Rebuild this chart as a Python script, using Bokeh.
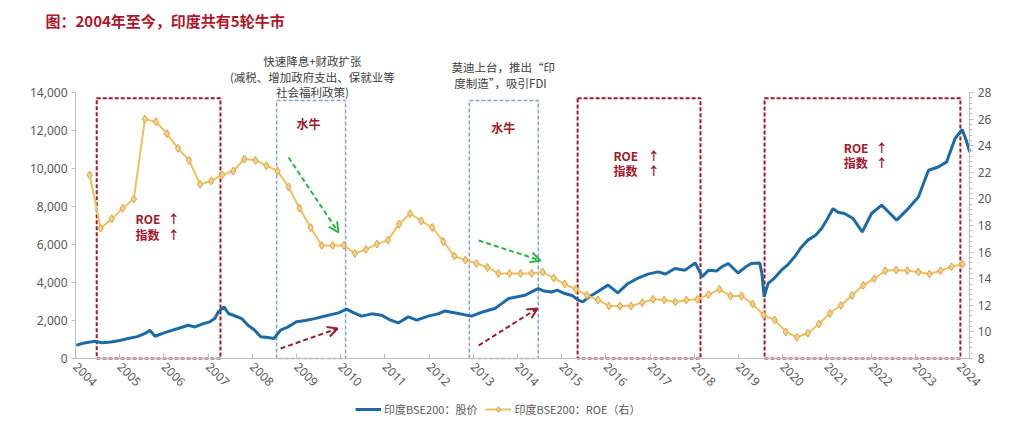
import math
from bokeh.plotting import figure
from bokeh.models import (Range1d, LinearAxis, FixedTicker, NumeralTickFormatter,
                          BoxAnnotation, Label, Arrow, OpenHead, Legend, LegendItem)
from bokeh.embed import file_html
from bokeh.resources import INLINE

# ---------------- data ----------------
years = list(range(2004, 2025))
year_labels = [str(y) for y in years]

# BSE200 price (left axis), decimal year / index level
price_t = [2004.02, 2004.2, 2004.44, 2004.6, 2004.8, 2005.0, 2005.19, 2005.4, 2005.6, 2005.68,
           2005.8, 2006.0, 2006.32, 2006.55, 2006.7, 2006.85, 2007.04, 2007.15, 2007.23, 2007.36,
           2007.46, 2007.6, 2007.76, 2007.9, 2008.05, 2008.19, 2008.35, 2008.49, 2008.64, 2008.8,
           2009.0, 2009.2, 2009.41, 2009.72, 2009.95, 2010.13, 2010.3, 2010.47, 2010.7, 2010.92,
           2011.1, 2011.3, 2011.53, 2011.72, 2011.98, 2012.2, 2012.36, 2012.66, 2012.96, 2013.15,
           2013.34, 2013.49, 2013.65, 2013.8, 2014.0, 2014.17, 2014.35, 2014.47, 2014.6, 2014.77,
           2014.9, 2015.07, 2015.25, 2015.37, 2015.48, 2015.62, 2015.75, 2015.9, 2016.05, 2016.27,
           2016.5, 2016.7, 2016.95, 2017.18, 2017.35, 2017.56, 2017.79, 2018.02, 2018.18, 2018.32,
           2018.5, 2018.62, 2018.77, 2018.99, 2019.15, 2019.29, 2019.48, 2019.53, 2019.58, 2019.67,
           2019.8, 2019.97, 2020.1, 2020.27, 2020.4, 2020.57, 2020.75, 2020.88, 2021.0, 2021.14,
           2021.25, 2021.4, 2021.59, 2021.8, 2022.01, 2022.24, 2022.4, 2022.58, 2022.84, 2023.07,
           2023.2, 2023.3, 2023.52, 2023.71, 2023.9, 2024.06, 2024.15, 2024.23]
price_v = [700, 820, 910, 830, 870, 950, 1050, 1150, 1350, 1490,
           1170, 1350, 1580, 1750, 1660, 1800, 1930, 2100, 2450, 2720,
           2370, 2250, 2100, 1750, 1500, 1140, 1100, 1050, 1490, 1650,
           1930, 2000, 2100, 2280, 2400, 2600, 2400, 2230, 2350, 2280,
           2050, 1870, 2190, 2020, 2230, 2350, 2500, 2370, 2230, 2400,
           2540, 2630, 2900, 3160, 3250, 3330, 3550, 3680, 3550, 3500,
           3600, 3420, 3300, 3070, 2980, 3250, 3420, 3650, 3860, 3450,
           3950, 4200, 4440, 4560, 4450, 4740, 4650, 5030, 4300, 4650,
           4600, 4820, 5000, 4500, 4800, 5000, 5030, 4470, 3240, 3950,
           4200, 4650, 4900, 5350, 5800, 6230, 6500, 6840, 7300, 7890,
           7700, 7630, 7370, 6660, 7630, 8070, 7700, 7280, 7890, 8500,
           9300, 9910, 10080, 10350, 11580, 12050, 11500, 10870]

# BSE200 ROE (right axis), quarterly
roe_v = [21.8, 17.8, 18.5, 19.3, 20.0, 26.0, 25.8, 24.9, 23.8, 22.9,
         21.1, 21.35, 21.8, 22.1, 23.0, 22.9, 22.5, 22.1, 20.9, 19.3,
         17.85, 16.5, 16.5, 16.5, 15.9, 16.2, 16.6, 16.9, 18.1, 18.9,
         18.35, 17.85, 16.8, 15.7, 15.4, 15.15, 14.85, 14.4, 14.4, 14.4,
         14.4, 14.5, 14.05, 13.6, 13.2, 12.75, 12.4, 11.95, 11.95, 11.95,
         12.2, 12.45, 12.4, 12.25, 12.4, 12.45, 12.8, 13.2, 12.7, 12.7,
         12.1, 11.25, 10.9, 10.0, 9.6, 9.9, 10.6, 11.4, 12.0, 12.75,
         13.5, 14.0, 14.6, 14.65, 14.6, 14.5, 14.35, 14.6, 14.9, 15.1]
roe_t = [2004.32 + 0.25 * i for i in range(len(roe_v))]

left_ticks = [0, 2000, 4000, 6000, 8000, 10000, 12000, 14000]
right_ticks = [8, 10, 12, 14, 16, 18, 20, 22, 24, 26, 28]

series_names = ["印度BSE200：股价", "印度BSE200：ROE（右）"]

# ---------------- styles ----------------
CJK = "Noto Sans CJK SC"
NUM = "Noto Sans"
BLUE = "#1C6BA6"
GOLD = "#F0C05A"
RED = "#9E1A2C"
LBLUE = "#7FA8D0"
GREEN = "#2DB34A"
AXIS_GRAY = "#BFBFBF"
TXT = "#595959"

X0, X1 = 2004.0, 2024.23

# the frame fills the whole canvas; all three axes are pinned at fixed locations inside it
p = figure(width=1007, height=419, output_backend="svg", toolbar_location=None,
           x_range=Range1d(2002.303, 2025.086), y_range=Range1d(-3210.5, 18842),
           min_border_left=0, min_border_right=0, min_border_top=0, min_border_bottom=0)
p.outline_line_color = None
p.xgrid.visible = False
p.ygrid.visible = False
p.extra_y_ranges = {"roe": Range1d(3.414, 34.917)}

# axes
xa = p.xaxis[0]
xa.fixed_location = 0
xa.bounds = (X0, X1)
xa.ticker = FixedTicker(ticks=years)
xa.major_label_overrides = {y: s for y, s in zip(years, year_labels)}
xa.major_label_orientation = -math.pi / 4
xa.major_tick_in = 5
xa.major_tick_out = 0
xa.minor_tick_line_color = None
xa.axis_line_color = AXIS_GRAY
xa.major_tick_line_color = AXIS_GRAY
xa.major_label_text_font = NUM
xa.major_label_text_font_size = "12px"
xa.major_label_text_color = TXT
xa.major_label_standoff = 6

ya = p.yaxis[0]
ya.fixed_location = X0
ya.ticker = FixedTicker(ticks=left_ticks)
ya.bounds = (0, 14000)
ya.formatter = NumeralTickFormatter(format="0,0")
ya.major_tick_in = 0
ya.major_tick_out = 4
ya.minor_tick_line_color = None
ya.axis_line_color = AXIS_GRAY
ya.major_tick_line_color = AXIS_GRAY
ya.major_label_text_font = NUM
ya.major_label_text_font_size = "12px"
ya.major_label_text_color = TXT
ya.major_label_standoff = 4

ra = LinearAxis(y_range_name="roe", bounds=(8, 28), fixed_location=X1,
                ticker=FixedTicker(ticks=right_ticks, minor_ticks=[8 + 0.4 * k for k in range(51)]))
ra.major_tick_in = 0
ra.major_tick_out = 4
ra.minor_tick_in = 0
ra.minor_tick_out = 3
ra.axis_line_color = AXIS_GRAY
ra.major_tick_line_color = AXIS_GRAY
ra.minor_tick_line_color = AXIS_GRAY
ra.major_label_text_font = NUM
ra.major_label_text_font_size = "12px"
ra.major_label_text_color = TXT
ra.major_label_standoff = 4
p.add_layout(ra, "right")

# boxes
red_boxes = [(2004.48, 2007.28), (2015.36, 2018.14), (2019.59, 2024.02)]
blue_boxes = [(2008.55, 2010.11), (2012.91, 2014.47)]
for l, r in red_boxes:
    p.add_layout(BoxAnnotation(left=l, right=r, bottom=0, top=13700, fill_alpha=0,
                               line_color=RED, line_alpha=1, line_width=2, line_dash="4 2",
                               level="underlay"))
for l, r in blue_boxes:
    p.add_layout(BoxAnnotation(left=l, right=r, bottom=0, top=13580, fill_alpha=0,
                               line_color=LBLUE, line_alpha=1, line_width=1.5, line_dash="4 2",
                               level="underlay"))

# series
r_price = p.line(price_t, price_v, line_color=BLUE, line_width=3)
r_roe_line = p.line(roe_t, roe_v, y_range_name="roe", line_color=GOLD, line_width=2)
r_roe_pts = p.scatter(roe_t, roe_v, y_range_name="roe", marker="diamond", size=8,
                      fill_color="#F3CF8A", line_color="#DDA44A", line_width=1)

# arrows
arrows = [((2008.82, 10579), (2009.95, 6632), GREEN),
          ((2013.12, 6210), (2014.52, 5158), GREEN),
          ((2008.64, 526), (2009.93, 1579), RED),
          ((2013.12, 684), (2014.45, 2632), RED)]
for (x0, y0), (x1, y1), c in arrows:
    p.add_layout(Arrow(x_start=x0, y_start=y0, x_end=x1, y_end=y1, line_color=c, line_width=2,
                       line_dash="5 3", end=OpenHead(size=10, line_color=c, line_width=2)))

# labels
def lab(x, y, t, size="12px", color=RED, bold=True, align="left", font=CJK):
    p.add_layout(Label(x=x, y=y, text=t, text_font=font, text_font_size=size,
                       text_color=color, text_font_style="bold" if bold else "normal",
                       text_align=align, text_baseline="middle"))

lab(2003.32, 17789, "图：2004年至今，印度共有5轮牛市", size="15px", color="#B0172B")

for (xw, xa_, y1, y2) in [(2005.36, 2006.22, 7368, 6526),
                          (2016.17, 2017.08, 10684, 9895),
                          (2021.38, 2022.24, 11105, 10316)]:
    lab(xw, y1, "ROE")
    lab(xw, y2, "指数")
    lab(xa_, y1, "↑", align="center")
    lab(xa_, y2, "↑", align="center")

lab(2009.27, 12368, "水牛", align="center")
lab(2013.68, 12158, "水牛", align="center")

DARK = "#404040"
lab(2009.36, 15684, "快速降息+财政扩张", size="11.5px", color=DARK, bold=False, align="center")
lab(2009.36, 14842, "(减税、增加政府支出、保就业等", size="11.5px", color=DARK, bold=False, align="center")
lab(2009.36, 14052, "社会福利政策)", size="11.5px", color=DARK, bold=False, align="center")
lab(2013.68, 15368, "莫迪上台，推出“印", size="11.5px", color=DARK, bold=False, align="center")
lab(2013.68, 14526, "度制造”，吸引FDI", size="11.5px", color=DARK, bold=False, align="center")

legend = Legend(items=[LegendItem(label=series_names[0], renderers=[r_price]),
                       LegendItem(label=series_names[1], renderers=[r_roe_line, r_roe_pts])],
                location=(353, 0), orientation="horizontal", border_line_alpha=0,
                background_fill_alpha=0, label_text_font=CJK, label_text_font_size="11px",
                label_text_color=TXT, glyph_width=26, glyph_height=14, spacing=8,
                padding=2, margin=0, label_standoff=3)
p.add_layout(legend, "center")

open("out.html", "w").write(file_html(p, INLINE))
